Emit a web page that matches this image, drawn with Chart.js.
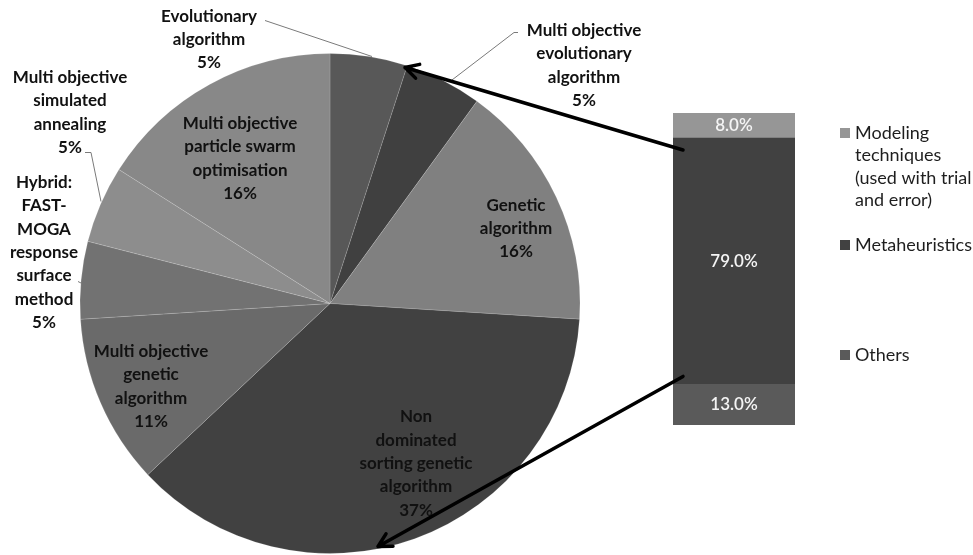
<!DOCTYPE html>
<html>
<head>
<meta charset="utf-8">
<title>Optimisation methods</title>
<script src="https://cdn.jsdelivr.net/npm/chart.js@4/dist/chart.umd.min.js"></script>
<style>
    html, body { margin: 0; padding: 0; background: #fff; }
    #wrap { position: relative; width: 973px; height: 555px; overflow: hidden; }
    #wrap canvas { position: absolute; left: 0; top: 0; }
</style>
</head>
<body>
<div id="wrap">
    <canvas id="pieChart" width="973" height="555"></canvas>
    <canvas id="barChart" width="973" height="555"></canvas>
</div>
<script>
// Metaheuristic methods (pie, clockwise from 12 o'clock)
const methodLabels = [
    ['Evolutionary', 'algorithm'],
    ['Multi objective', 'evolutionary', 'algorithm'],
    ['Genetic', 'algorithm'],
    ['Non', 'dominated', 'sorting genetic', 'algorithm'],
    ['Multi objective', 'genetic', 'algorithm'],
    ['Hybrid:', 'FAST-', 'MOGA', 'response', 'surface', 'method'],
    ['Multi objective', 'simulated', 'annealing'],
    ['Multi objective', 'particle swarm', 'optimisation']
];
const methodShares = [5, 5, 16, 37, 11, 5, 5, 16];
const methodColors = ['#585858', '#404040', '#808080', '#414141', '#6a6a6a', '#727272', '#8d8d8d', '#888888'];

// Technique groups (stacked bar, bottom to top)
const groupLabels = ['Others', 'Metaheuristics', ['Modeling', 'techniques', '(used with trial', 'and error)']];
const groupShares = [13.0, 79.0, 8.0];
const groupColors = ['#5a5a5a', '#414141', '#969696'];

const FONT = 'Lato, "Open Sans", sans-serif';

// label block centres, relative to the pie centre
const sliceLabelPos = [
    { dx: -121, dy: -264 },
    { dx: 254, dy: -238 },
    { dx: 186, dy: -75 },
    { dx: 86, dy: 160 },
    { dx: -179, dy: 83 },
    { dx: -286, dy: -51 },
    { dx: -260, dy: -191 },
    { dx: -90, dy: -145 }
];
// thin leader lines for the outside labels (relative to pie centre)
const leaderLines = [
    [[-65, -283], [42, -247]],
    [[188, -271], [184, -271], [120, -222]],
    [[-245, -151], [-239, -151], [-229, -102]],
    [[-252, -22], [-248, -20]]
];

const pieLabels = {
    id: 'pieLabels',
    afterDatasetsDraw(chart) {
        const ctx = chart.ctx;
        const arc = chart.getDatasetMeta(0).data[0];
        const cx = arc.x, cy = arc.y;
        ctx.save();

        ctx.strokeStyle = '#7a7a7a';
        ctx.lineWidth = 1;
        leaderLines.forEach(pts => {
            ctx.beginPath();
            pts.forEach(([x, y], i) => i ? ctx.lineTo(cx + x, cy + y) : ctx.moveTo(cx + x, cy + y));
            ctx.stroke();
        });

        ctx.fillStyle = '#111';
        ctx.font = 'bold 17px ' + FONT;
        ctx.textAlign = 'center';
        ctx.textBaseline = 'middle';
        const lh = 23.4;
        methodLabels.forEach((lines, i) => {
            const all = lines.concat([methodShares[i] + '%']);
            const p = sliceLabelPos[i];
            const top = cy + p.dy - (all.length - 1) * lh / 2;
            all.forEach((t, j) => ctx.fillText(t, cx + p.dx, top + j * lh));
        });
        ctx.restore();
    }
};

function arrow(ctx, x1, y1, x2, y2) {
    const a = Math.atan2(y2 - y1, x2 - x1);
    const head = 15;
    ctx.beginPath();
    ctx.moveTo(x1, y1);
    ctx.lineTo(x2, y2);
    ctx.moveTo(x2 - head * Math.cos(a - 0.5), y2 - head * Math.sin(a - 0.5));
    ctx.lineTo(x2, y2);
    ctx.lineTo(x2 - head * Math.cos(a + 0.5), y2 - head * Math.sin(a + 0.5));
    ctx.stroke();
}

const barExtras = {
    id: 'barExtras',
    afterDatasetsDraw(chart) {
        const ctx = chart.ctx;
        ctx.save();

        // value labels in each segment
        ctx.fillStyle = '#f4f4f4';
        ctx.font = '600 17px ' + FONT;
        ctx.textAlign = 'center';
        ctx.textBaseline = 'middle';
        chart.data.datasets.forEach((ds, i) => {
            const bar = chart.getDatasetMeta(i).data[0];
            ctx.fillText(ds.data[0].toFixed(1) + '%', bar.x, (bar.y + bar.base) / 2);
        });

        // legend, top to bottom
        const legendRows = [
            { idx: 2, y: 133 },
            { idx: 1, y: 245 },
            { idx: 0, y: 355 }
        ];
        ctx.textAlign = 'left';
        ctx.font = '18px ' + FONT;
        legendRows.forEach(row => {
            const lines = [].concat(groupLabels[row.idx]);
            ctx.fillStyle = groupColors[row.idx];
            ctx.fillRect(840, row.y - 5, 10, 10);
            ctx.fillStyle = '#1e1e1e';
            lines.forEach((t, j) => ctx.fillText(t, 855, row.y + j * 22.5));
        });

        // arrows from the metaheuristics segment to the pie
        const mid = chart.getDatasetMeta(1).data[0];
        const left = mid.x - mid.width / 2;
        const pie = Chart.getChart('pieChart').getDatasetMeta(0).data[0];
        ctx.strokeStyle = '#000';
        ctx.lineWidth = 3.5;
        ctx.lineCap = 'round';
        ctx.lineJoin = 'round';
        arrow(ctx, left + 10, mid.y + 12, pie.x + 75, pie.y - 236);
        arrow(ctx, left + 10, mid.base - 8, pie.x + 48, pie.y + 243);
        ctx.restore();
    }
};

new Chart(document.getElementById('pieChart'), {
    type: 'pie',
    data: {
        labels: methodLabels.map(l => l.join(' ')),
        datasets: [{
            data: methodShares,
            backgroundColor: methodColors,
            borderColor: 'rgba(255,255,255,0.15)',
            borderWidth: 1
        }]
    },
    options: {
        responsive: false,
        animation: false,
        events: [],
        layout: { padding: { left: 78, right: 391, top: 53, bottom: 1 } },
        plugins: { legend: { display: false }, tooltip: { enabled: false } }
    },
    plugins: [pieLabels]
});

new Chart(document.getElementById('barChart'), {
    type: 'bar',
    data: {
        labels: [''],
        datasets: groupLabels.map((l, i) => ({
            label: [].concat(l).join(' '),
            data: [groupShares[i]],
            backgroundColor: groupColors[i],
            barPercentage: 1,
            categoryPercentage: 1
        }))
    },
    options: {
        responsive: false,
        animation: false,
        events: [],
        layout: { padding: { left: 673, right: 178, top: 113, bottom: 130 } },
        scales: {
            x: { stacked: true, display: false },
            y: { stacked: true, display: false, min: 0, max: 100 }
        },
        plugins: { legend: { display: false }, tooltip: { enabled: false } }
    },
    plugins: [barExtras]
});
</script>
</body>
</html>
